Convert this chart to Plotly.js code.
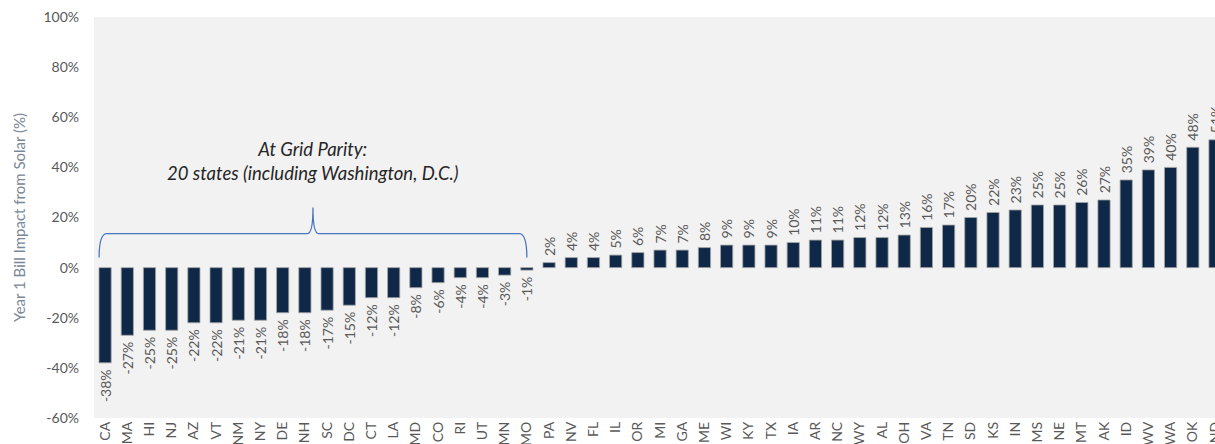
<!DOCTYPE html>
<html>
<head>
<meta charset="utf-8">
<script src="https://cdn.plot.ly/plotly-3.0.1.min.js"></script>
<style>html,body{margin:0;padding:0;overflow:hidden;background:#fff}#chart{width:1215px;height:444px}</style>
</head>
<body>
<div id="chart"></div>
<script>
const states = ["CA","MA","HI","NJ","AZ","VT","NM","NY","DE","NH","SC","DC","CT","LA","MD","CO","RI","UT","MN","MO","PA","NV","FL","IL","OR","MI","GA","ME","WI","KY","TX","IA","AR","NC","WY","AL","OH","VA","TN","SD","KS","IN","MS","NE","MT","AK","ID","WV","WA","OK","ND"];
const impact = [-38,-27,-25,-25,-22,-22,-21,-21,-18,-18,-17,-15,-12,-12,-8,-6,-4,-4,-3,-1,2,4,4,5,6,7,7,8,9,9,9,10,11,11,12,12,13,16,17,20,22,23,25,25,26,27,35,39,40,48,51];
const yTicks = [-60,-40,-20,0,20,40,60,80,100];
const noteText = "At Grid Parity:<br>20 states (including Washington, D.C.)";

const font = "Lato, 'Open Sans', sans-serif";
const nNeg = impact.filter(v => v < 0).length; // 20
const left = -0.27, right = nNeg - 1, mid = (left + right) / 2;
const yb = 4, yh = 13.6, yt = 24, r = 0.35;
const bracePath = `M ${left},${yb} Q ${left},${yh} ${left+r},${yh} L ${mid-0.25},${yh} Q ${mid},${yh} ${mid},${yt} Q ${mid},${yh} ${mid+0.25},${yh} L ${right-r},${yh} Q ${right},${yh} ${right},${yb}`;

const pad = '\u00a0';
const trace = {
  type: 'bar',
  x: states,
  y: impact,
  marker: {color: '#0f2848', line: {color: '#a6a6a6', width: 0.8}},
  text: impact.map(v => v < 0 ? (v + '%' + pad) : (pad + v + '%')),
  textposition: 'outside',
  textangle: -90,
  constraintext: 'none',
  cliponaxis: false,
  textfont: {family: font, size: 14, color: '#595959'},
  hoverinfo: 'none'
};

const layout = {
  width: 1215, height: 444,
  margin: {l: 94, r: 0, t: 17, b: 26},
  paper_bgcolor: '#ffffff',
  plot_bgcolor: '#f2f2f2',
  bargap: 0.45,
  showlegend: false,
  xaxis: {
    type: 'category',
    range: [-0.5, 50.0],
    tickangle: -90,
    tickfont: {family: font, size: 14, color: '#595959'},
    showgrid: false, zeroline: false, showline: false,
    ticks: '', ticklen: 0
  },
  yaxis: {
    range: [-60, 100],
    tickvals: yTicks,
    ticktext: yTicks.map(v => v + '%'),
    tickfont: {family: font, size: 14, color: '#595959'},
    ticklabelstandoff: 14,
    showgrid: false, zeroline: false, showline: false,
    ticks: '', ticklen: 0,
    title: {text: 'Year 1 Bill Impact from Solar (%)', font: {family: font, size: 15, color: '#7a8898'}, standoff: 14}
  },
  shapes: [{
    type: 'path', xref: 'x', yref: 'y', path: bracePath,
    line: {color: '#4a76c0', width: 1.3}
  }],
  annotations: [{
    xref: 'x', yref: 'y', x: mid, y: 42.5,
    text: noteText, showarrow: false,
    font: {family: font, size: 18.5, color: '#262626', style: 'italic'},
    align: 'center'
  }]
};

Plotly.newPlot('chart', [trace], layout, {displayModeBar: false, staticPlot: true});
</script>
</body>
</html>
